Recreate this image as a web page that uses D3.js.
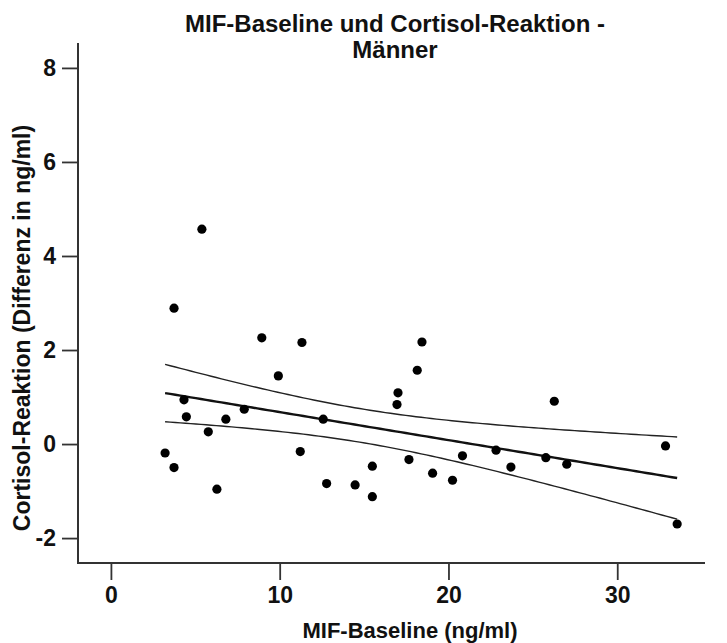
<!DOCTYPE html>
<html>
<head>
<meta charset="utf-8">
<script src="https://cdn.jsdelivr.net/npm/d3@7"></script>
<style>
  html, body { margin: 0; padding: 0; background: #fff; }
  svg { display: block; }
  text { font-family: "Liberation Sans Narrow", "Arial Narrow", "Liberation Sans", Arial, sans-serif; font-weight: bold; fill: #111; }
</style>
</head>
<body>
<svg id="chart" width="727" height="643"></svg>
<script>
// ---- data ----
const titleLines = ["MIF-Baseline und Cortisol-Reaktion -", "Männer"];
const xLabel = "MIF-Baseline (ng/ml)";
const yLabel = "Cortisol-Reaktion (Differenz in ng/ml)";
const xTicks = [0, 10, 20, 30];
const yTicks = [-2, 0, 2, 4, 6, 8];
const mifBaseline = [
  5.39, 3.74, 8.94, 11.32, 9.92, 4.33, 4.47, 7.90, 6.81, 12.58, 5.77,
  3.21, 3.74, 11.22, 6.28, 12.78, 14.47, 15.49, 15.49, 18.43, 18.15,
  17.01, 16.95, 26.27, 32.86, 17.66, 19.06, 20.24, 20.83, 22.82, 23.70,
  25.77, 27.01, 33.55
];
const cortisolReaktion = [
  4.57, 2.89, 2.26, 2.16, 1.45, 0.94, 0.58, 0.74, 0.53, 0.53, 0.26,
  -0.19, -0.50, -0.16, -0.96, -0.84, -0.87, -0.47, -1.12, 2.17, 1.57,
  1.09, 0.84, 0.91, -0.04, -0.33, -0.62, -0.77, -0.25, -0.13, -0.49,
  -0.29, -0.43, -1.70
];
const xDomain = [-1.95, 35.2];
const yDomain = [-2.53, 8.53];

// ---- layout ----
const svg = d3.select("#chart");
const plot = { left: 78, right: 705, top: 43, bottom: 563 };
const x = d3.scaleLinear().domain(xDomain).range([plot.left, plot.right]);
const y = d3.scaleLinear().domain(yDomain).range([plot.bottom, plot.top]);
const axisColor = "#333";
const fontStack = "'Liberation Sans Narrow','Arial Narrow','Liberation Sans',Arial,sans-serif";

// ---- fit line and 90% CI of the mean (computed from the points) ----
const pts = mifBaseline.map((v, i) => ({ x: v, y: cortisolReaktion[i] }));
const n = pts.length;
const mx = d3.mean(pts, d => d.x), my = d3.mean(pts, d => d.y);
const sxx = d3.sum(pts, d => (d.x - mx) ** 2);
const sxy = d3.sum(pts, d => (d.x - mx) * (d.y - my));
const b = sxy / sxx, a = my - b * mx;
const sse = d3.sum(pts, d => (d.y - (a + b * d.x)) ** 2);
const s = Math.sqrt(sse / (n - 2));
const tcrit = 1.694; // t(0.95, df=32)
const [xmin, xmax] = d3.extent(pts, d => d.x);
const grid = d3.range(0, 101).map(i => xmin + (xmax - xmin) * i / 100);
const fit = grid.map(gx => {
  const yh = a + b * gx;
  const se = s * Math.sqrt(1 / n + (gx - mx) ** 2 / sxx);
  return { x: gx, y: yh, lo: yh - tcrit * se, hi: yh + tcrit * se };
});
const line = key => d3.line().x(d => x(d.x)).y(d => y(d[key]));

svg.append("path").datum(fit).attr("d", line("hi"))
  .attr("fill", "none").attr("stroke", "#222").attr("stroke-width", 1.4);
svg.append("path").datum(fit).attr("d", line("lo"))
  .attr("fill", "none").attr("stroke", "#222").attr("stroke-width", 1.4);
svg.append("path").datum(fit).attr("d", line("y"))
  .attr("fill", "none").attr("stroke", "#111").attr("stroke-width", 2.4);

// ---- points ----
svg.append("g").selectAll("circle").data(pts).join("circle")
  .attr("cx", d => x(d.x)).attr("cy", d => y(d.y)).attr("r", 4.6)
  .attr("fill", "#000");

// ---- axes ----
const fmt = d => String(d).replace("\u2212", "-");
const yAxis = d3.axisLeft(y).tickValues(yTicks).tickSize(16).tickPadding(6).tickFormat(fmt);
const gy = svg.append("g").attr("transform", `translate(${plot.left},0)`).call(yAxis);
const xAxis = d3.axisBottom(x).tickValues(xTicks).tickSize(17).tickPadding(7).tickFormat(fmt);
const gx = svg.append("g").attr("transform", `translate(0,${plot.bottom})`).call(xAxis);
[gx, gy].forEach(g => {
  g.select(".domain").remove();
  g.selectAll(".tick line").attr("stroke", axisColor).attr("stroke-width", 1.8);
  g.selectAll(".tick text").attr("font-size", 23).attr("fill", "#111")
    .style("font-family", fontStack).style("font-weight", "bold");
});
svg.append("line").attr("x1", plot.left).attr("x2", plot.left)
  .attr("y1", plot.top).attr("y2", plot.bottom + 1)
  .attr("stroke", axisColor).attr("stroke-width", 2);
svg.append("line").attr("x1", plot.left - 1).attr("x2", plot.right)
  .attr("y1", plot.bottom).attr("y2", plot.bottom)
  .attr("stroke", axisColor).attr("stroke-width", 2);

// ---- titles ----
svg.append("text").attr("x", 410).attr("y", 638).attr("text-anchor", "middle")
  .attr("font-size", 22).text(xLabel);
svg.append("text").attr("transform", "translate(30,328) rotate(-90)")
  .attr("text-anchor", "middle").attr("font-size", 23).text(yLabel);
titleLines.forEach((t, i) => {
  svg.append("text").attr("x", 395).attr("y", 32 + i * 26)
    .attr("text-anchor", "middle").attr("font-size", 24).text(t);
});
</script>
</body>
</html>
